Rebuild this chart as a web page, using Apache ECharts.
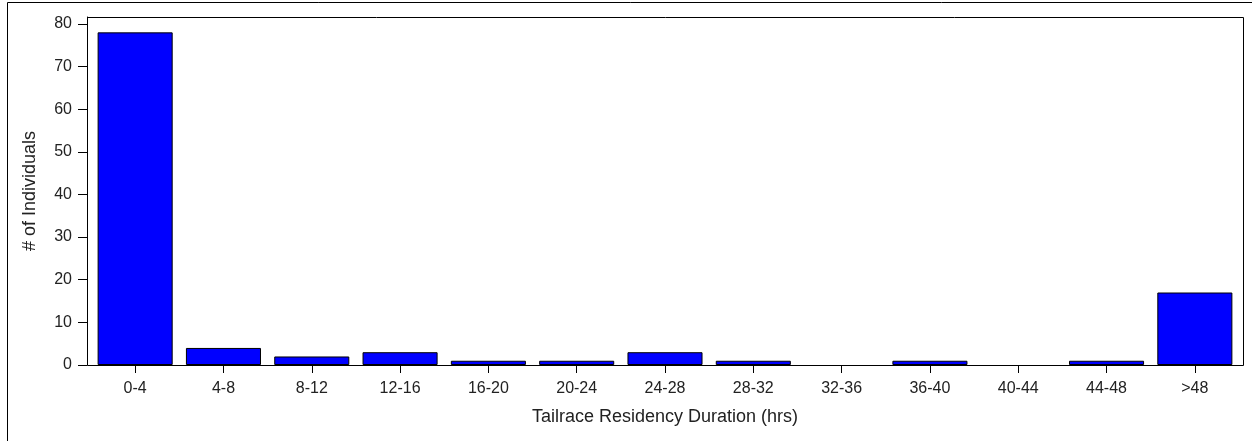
<!DOCTYPE html>
<html>
<head>
<meta charset="utf-8">
<script src="https://cdn.jsdelivr.net/npm/echarts@6/dist/echarts.min.js"></script>
<style>
html,body{margin:0;padding:0;background:#fff;}
#chart{width:1252px;height:441px;}
</style>
</head>
<body>
<div id="chart"></div>
<script>
const categories = ['0-4','4-8','8-12','12-16','16-20','20-24','24-28','28-32','32-36','36-40','40-44','44-48','>48'];
const counts = [78, 4, 2, 3, 1, 1, 3, 1, 0, 1, 0, 1, 17];
const yTicks = [0, 10, 20, 30, 40, 50, 60, 70, 80];
const xTitle = 'Tailrace Residency Duration (hrs)';
const yTitle = '# of Individuals';

const font = 'Arial, "Liberation Sans", sans-serif';
const chart = echarts.init(document.getElementById('chart'), null, {renderer: 'canvas'});
chart.setOption({
  animation: false,
  backgroundColor: '#ffffff',
  graphic: [{
    type: 'rect',
    shape: {x: 7.5, y: 2.5, width: 1260, height: 460},
    style: {fill: 'none', stroke: '#000', lineWidth: 1},
    silent: true
  }, {
    type: 'rect',
    shape: {x: 87.5, y: 17.5, width: 1156, height: 348},
    style: {fill: 'none', stroke: '#000', lineWidth: 1},
    silent: true, z: 10
  }],
  grid: {
    left: 91, top: 17, right: 13, bottom: 76,
    show: false
  },
  xAxis: {
    type: 'category',
    data: categories,
    boundaryGap: true,
    name: xTitle,
    nameLocation: 'middle',
    nameGap: 43,
    nameTextStyle: {fontFamily: font, fontSize: 18, color: '#222'},
    axisLine: {show: true, lineStyle: {color: '#000', width: 1}},
    axisTick: {show: true, alignWithLabel: true, length: 8, lineStyle: {color: '#000'}},
    axisLabel: {fontFamily: font, fontSize: 16, color: '#222', margin: 16},
    splitLine: {show: false}
  },
  yAxis: {
    type: 'value',
    min: 0,
    max: 81.6,
    offset: 4,
    name: yTitle,
    nameLocation: 'middle',
    nameGap: 48,
    nameTextStyle: {fontFamily: font, fontSize: 18, color: '#222'},
    axisLine: {show: true, lineStyle: {color: '#000', width: 1}},
    axisTick: {show: true, length: 9, lineStyle: {color: '#000'}, customValues: yTicks},
    axisLabel: {fontFamily: font, fontSize: 16, color: '#222', margin: 15, customValues: yTicks},
    splitLine: {show: false}
  },
  series: [{
    type: 'bar',
    data: counts.map(v => v === 0 ? {value: v, itemStyle: {borderWidth: 0}} : v),
    barCategoryGap: '15%',
    itemStyle: {color: '#0000ff', borderColor: '#000', borderWidth: 1}
  }]
});
</script>
</body>
</html>
